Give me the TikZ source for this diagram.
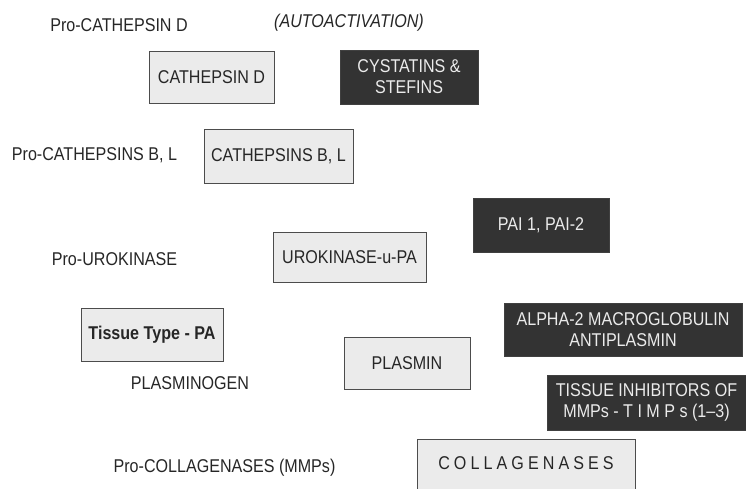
\documentclass[tikz,border=0pt]{standalone}
\usepackage{fontspec}
\setmainfont{Liberation Sans}[FakeStretch=0.87]
\begin{document}
\begin{tikzpicture}[x=1pt,y=-1pt,
  lbl/.style={font=\fontsize{18.5}{21}\selectfont, text=black!85, inner sep=0pt},
  lightbox/.style={draw=black!70, line width=0.9pt, fill=black!8, font=\fontsize{18.5}{21}\selectfont, text=black!85, inner sep=0pt, align=center},
  darkbox/.style={draw=black!75, line width=0.9pt, fill=black!80, font=\fontsize{18.5}{21}\selectfont, text=white!92!black, inner sep=0pt, align=center}]
\useasboundingbox (0,0) rectangle (746,488);
\begin{scope}
\clip (0,0) rectangle (746,488);
% plain labels
\node[lbl] (proD) at (119,25) {Pro-CATHEPSIN D};
\node[lbl, font=\fontsize{18.5}{21}\selectfont\itshape] (auto) at (349,23) {(AUTOACTIVATION)};
\node[lbl] (proBL) at (94.5,155) {Pro-CATHEPSINS B, L};
\node[lbl] (proU) at (114.5,259) {Pro-UROKINASE};
\node[lbl] (plg) at (190,383) {PLASMINOGEN};
\node[lbl] (proColl) at (224.5,468) {Pro-COLLAGENASES (MMPs)};
% light boxes
\node[lightbox, minimum width=125, minimum height=52] (cathD) at (211.5,77) {CATHEPSIN D};
\node[lightbox, minimum width=149, minimum height=54] (cathBL) at (278.5,156) {CATHEPSINS B, L};
\node[lightbox, minimum width=153, minimum height=50] (upa) at (349.5,257) {UROKINASE-u-PA};
\node[lightbox, minimum width=142, minimum height=53, font=\fontsize{18.5}{21}\selectfont\bfseries] (tpa) at (152,334.5) {Tissue Type - PA};
\node[lightbox, minimum width=126, minimum height=52] (plasmin) at (407,363) {PLASMIN};
\node[lightbox, minimum width=218, minimum height=62] (coll) at (526,470) {};
\node[lbl, font=\fontsize{18.5}{21}\selectfont\addfontfeature{LetterSpace=22}] (colltext) at (526,463) {COLLAGENASES};
% dark boxes
\node[darkbox, minimum width=138, minimum height=54] (cyst) at (409,77) {CYSTATINS \&\\STEFINS};
\node[darkbox, minimum width=136, minimum height=54] (pai) at (541,225) {PAI 1, PAI-2};
\node[darkbox, minimum width=238, minimum height=53] (alpha) at (623,329.5) {ALPHA-2 MACROGLOBULIN\\ANTIPLASMIN};
\node[darkbox, minimum width=199, minimum height=55] (timp) at (646.5,402.5) {TISSUE INHIBITORS OF\\MMPs - T I M P s (1--3)};
\end{scope}
\end{tikzpicture}
\end{document}
